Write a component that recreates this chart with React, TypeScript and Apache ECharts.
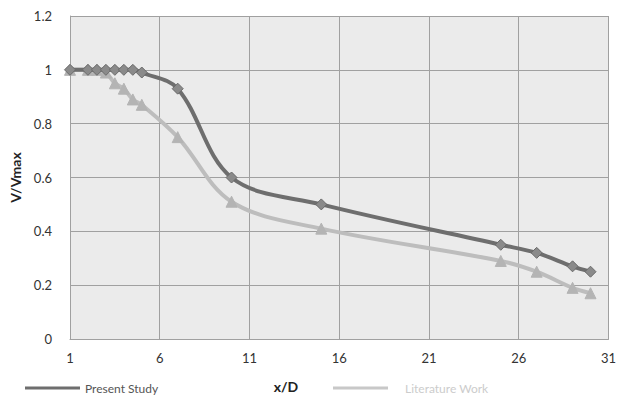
import React, { useEffect, useRef } from "react";
import * as echarts from "echarts";

const xValues = [1, 2, 2.5, 3, 3.5, 4, 4.5, 5, 7, 10, 15, 25, 27, 29, 30];
const presentStudy = [1, 1, 1, 1, 1, 1, 1, 0.99, 0.93, 0.6, 0.5, 0.35, 0.32, 0.27, 0.25];
const literatureWork = [1, 1, 1, 0.99, 0.95, 0.93, 0.89, 0.87, 0.75, 0.51, 0.41, 0.29, 0.25, 0.19, 0.17];
const seriesNames = ["Present Study", "Literature Work"];
const xTitle = "x/D";
const yTitle = "V/Vmax";

const FONT = "Lato, 'Open Sans', sans-serif";

export default function App() {
  const ref = useRef<HTMLDivElement>(null);
  useEffect(() => {
    if (!ref.current) return;
    const chart = echarts.init(ref.current, null, { renderer: "svg" });
    const pair = (ys: number[]) => xValues.map((x, i) => [x, ys[i]]);
    const legendBase = {
      bottom: 6,
      itemWidth: 55,
      itemHeight: 3,
      icon: "rect",
      itemGap: 6,
      itemStyle: { borderWidth: 0 },
    };
    chart.setOption({
      animation: false,
      backgroundColor: "#ffffff",
      textStyle: { fontFamily: FONT },
      grid: {
        left: 70,
        right: 8,
        top: 16,
        bottom: 66,
        show: true,
        backgroundColor: "#ebebeb",
        borderWidth: 0,
      },
      graphic: [
        {
          type: "text",
          x: 286,
          y: 386,
          style: {
            text: xTitle,
            fill: "#222",
            font: `bold 14px ${FONT}`,
            align: "center",
            verticalAlign: "middle",
          },
        },
      ],
      legend: [
        {
          ...legendBase,
          left: 20,
          data: [{ name: seriesNames[0], itemStyle: { color: "#6e6e6e", borderWidth: 0 } }],
          textStyle: { fontFamily: FONT, fontSize: 12, color: "#555555" },
        },
        {
          ...legendBase,
          left: 328,
          data: [{ name: seriesNames[1], itemStyle: { color: "#c8c8c8", borderWidth: 0 } }],
          textStyle: { fontFamily: FONT, fontSize: 12, color: "#cccccc", padding: [0, 0, 0, 12] },
        },
      ],
      xAxis: {
        type: "value",
        min: 1,
        max: 31,
        interval: 5,
        axisLine: { show: true, lineStyle: { color: "#a0a0a0", width: 1 } },
        axisTick: { show: false },
        axisLabel: { color: "#333", fontSize: 13, margin: 12, fontFamily: FONT },
        splitLine: { show: true, lineStyle: { color: "#a0a0a0", width: 1 } },
      },
      yAxis: {
        type: "value",
        min: 0,
        max: 1.2,
        interval: 0.2,
        name: yTitle,
        nameLocation: "middle",
        nameGap: 46,
        nameTextStyle: { fontWeight: "bold", fontSize: 14, color: "#222", fontFamily: FONT },
        axisLine: { show: true, lineStyle: { color: "#a0a0a0", width: 1 } },
        axisTick: { show: false },
        axisLabel: {
          color: "#333",
          fontSize: 13,
          margin: 18,
          fontFamily: FONT,
          formatter: (v: number) => String(Math.round(v * 10) / 10),
        },
        splitLine: { show: true, lineStyle: { color: "#a0a0a0", width: 1 } },
      },
      series: [
        {
          name: seriesNames[1],
          type: "line",
          data: pair(literatureWork),
          smooth: 0.35,
          symbol: "triangle",
          symbolSize: 11,
          lineStyle: { color: "#bdbdbd", width: 4 },
          itemStyle: { color: "#b4b4b4", borderColor: "#b4b4b4" },
          z: 2,
        },
        {
          name: seriesNames[0],
          type: "line",
          data: pair(presentStudy),
          smooth: 0.35,
          symbol: "diamond",
          symbolSize: 11,
          lineStyle: { color: "#6e6e6e", width: 4 },
          itemStyle: { color: "#8a8a8a", borderColor: "#6a6a6a", borderWidth: 1 },
          z: 3,
        },
      ],
    });
    return () => chart.dispose();
  }, []);
  return (
    <div
      ref={ref}
      style={{ position: "fixed", left: 0, top: 0, width: 619, height: 405 }}
    />
  );
}
